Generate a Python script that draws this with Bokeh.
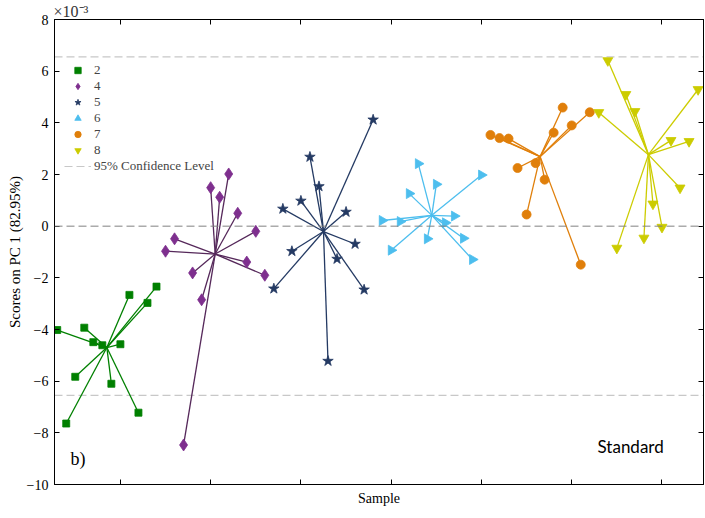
import numpy as np
from bokeh.plotting import figure
from bokeh.models import (Range1d, FixedTicker, LinearAxis, Span, Label,
                          Legend, LegendItem)
from bokeh.embed import file_html
from bokeh.resources import INLINE

# ---------------- data (scores in units of 1e-3) ----------------
group_names = ["2", "4", "5", "6", "7", "8"]

sample_2 = list(range(3, 15))
score_2 = [-4.02, -7.64, -5.83, -3.93, -4.49, -4.61, -6.10, -4.57, -2.66, -7.22, -2.97, -2.34]

sample_4 = list(range(15, 27))
score_4 = [-0.97, -0.49, -8.47, -1.81, -2.85, 1.49, 1.12, 2.02, 0.50, -1.39, -0.20, -1.90]

sample_5 = list(range(27, 39))
score_5 = [-2.42, 0.67, -0.97, 0.98, 2.68, 1.54, -5.22, -1.27, 0.55, -0.69, -2.46, 4.12]

sample_6 = list(range(39, 51))
score_6 = [0.22, -0.93, 0.18, 1.26, 2.42, -0.49, 1.62, 0.13, 0.39, -0.47, -1.29, 1.98]

sample_7 = list(range(51, 63))
score_7 = [3.53, 3.41, 3.39, 2.25, 0.45, 2.44, 1.80, 3.62, 4.59, 3.90, -1.49, 4.41]

sample_8 = list(range(63, 75))
score_8 = [4.40, 6.41, -0.85, 5.10, 4.44, -0.46, 0.86, -0.04, 3.32, 1.48, 3.28, 5.29]

confidence_level = 6.55
y_tick_values = [-10, -8, -6, -4, -2, 0, 2, 4, 6, 8]
x_tick_values = [10, 20, 30, 40, 50, 60, 70]
x_start, x_end = 2.7, 74.6
y_start, y_end = -10, 8

# ---------------- styles ----------------
samples = [sample_2, sample_4, sample_5, sample_6, sample_7, sample_8]
scores = [score_2, score_4, score_5, score_6, score_7, score_8]
marker_colors = ["#008000", "#7e2f8e", "#243a63", "#4dbeee", "#e07f0a", "#cccc00"]
line_colors = ["#008000", "#55285a", "#243a63", "#4dbeee", "#e07f0a", "#cccc00"]
markers = ["square", "diamond", "star", "triangle", "circle", "inverted_triangle"]
sizes = [7, 12, 11, 10, 9, 10]
angles = [0, 0, 0, -np.pi / 2, 0, 0]

SERIF = "Liberation Serif"

p = figure(width=705, height=518, output_backend="svg", toolbar_location=None,
           x_range=Range1d(x_start, x_end), y_range=Range1d(y_start, y_end),
           min_border_left=54, min_border_right=2, min_border_top=18,
           min_border_bottom=34)
p.background_fill_color = "white"
p.border_fill_color = "white"
p.grid.visible = False
p.outline_line_color = "black"
p.outline_line_width = 1

# multiplier shown as title
p.title.text = "×10⁻³"
p.title.text_font = SERIF
p.title.text_font_size = "16px"
p.title.text_font_style = "normal"
p.title.text_color = "#333333"
p.title.align = "left"
p.title.standoff = 0
p.title.offset = -1

# zero line
p.add_layout(Span(location=0, dimension="width", line_color="#808080",
                  line_dash="8 4", line_width=1))

# 95% confidence lines
conf_r = p.segment(x0=[x_start, x_start], x1=[x_end, x_end],
                   y0=[confidence_level, -confidence_level],
                   y1=[confidence_level, -confidence_level],
                   line_color="#c8c8c8", line_dash="8 4", line_width=1.2)

legend_items = []
for name, xs, ys, mc, lc, mk, sz, ang in zip(group_names, samples, scores,
                                            marker_colors, line_colors,
                                            markers, sizes, angles):
    xs = np.asarray(xs, dtype=float)
    ys = np.asarray(ys, dtype=float)
    cx = xs.mean()
    cy = ys.mean()
    p.segment(x0=xs, y0=ys, x1=np.full_like(xs, cx), y1=np.full_like(ys, cy),
              line_color=lc, line_width=1.3)
    r = p.scatter(x=xs, y=ys, marker=mk, size=sz, angle=ang,
                  fill_color=mc, line_color=mc, line_width=0.8)
    legend_items.append(LegendItem(label=name, renderers=[r]))

legend_items.append(LegendItem(label="95% Confidence Level", renderers=[conf_r]))

legend = Legend(items=legend_items, location=(10, 310),
                border_line_color=None, background_fill_alpha=0,
                label_text_font=SERIF, label_text_font_size="13px",
                glyph_width=27, glyph_height=16, label_height=15,
                spacing=0, padding=5, margin=0, label_standoff=3)
p.add_layout(legend)

# axes
p.yaxis.ticker = FixedTicker(ticks=y_tick_values)
p.xaxis.ticker = FixedTicker(ticks=x_tick_values)
for ax in (p.xaxis[0], p.yaxis[0]):
    ax.axis_line_color = "black"
    ax.major_tick_line_color = "black"
    ax.major_tick_in = 5
    ax.major_tick_out = 0
    ax.minor_tick_line_color = None
    ax.axis_label_text_font = SERIF
    ax.axis_label_text_font_style = "normal"
    ax.axis_label_text_font_size = "14px"
    ax.axis_label_text_color = "black"
    ax.major_label_text_font = SERIF
    ax.major_label_text_font_size = "14px"
    ax.major_label_text_color = "black"

p.yaxis.axis_label = "Scores on PC 1 (82.95%)"
p.yaxis.axis_label_text_font_size = "15px"
p.yaxis.major_label_standoff = 6
p.yaxis.axis_label_standoff = 1
p.xaxis.axis_label = "Sample"
p.xaxis.major_label_overrides = {t: "" for t in x_tick_values}
p.xaxis.major_label_standoff = 0
p.xaxis.axis_label_standoff = 6

top_ax = LinearAxis(ticker=FixedTicker(ticks=x_tick_values))
top_ax.major_label_overrides = {t: "" for t in x_tick_values}
right_ax = LinearAxis(ticker=FixedTicker(ticks=y_tick_values))
right_ax.major_label_overrides = {t: "" for t in y_tick_values}
for ax in (top_ax, right_ax):
    ax.axis_line_color = "black"
    ax.major_tick_line_color = "black"
    ax.major_tick_in = 5
    ax.major_tick_out = 0
    ax.minor_tick_line_color = None
    ax.major_label_standoff = 0
p.add_layout(top_ax, "above")
p.add_layout(right_ax, "right")

# texts inside the frame
p.add_layout(Label(x=16, y=16, x_units="screen", y_units="screen", text="b)",
                   text_font=SERIF, text_font_size="18px",
                   text_color="black"))
p.add_layout(Label(x=543, y=28, x_units="screen", y_units="screen", text="Standard",
                   text_font="Lato", text_font_size="17px",
                   text_color="black"))

open("out.html", "w").write(file_html(p, INLINE))
